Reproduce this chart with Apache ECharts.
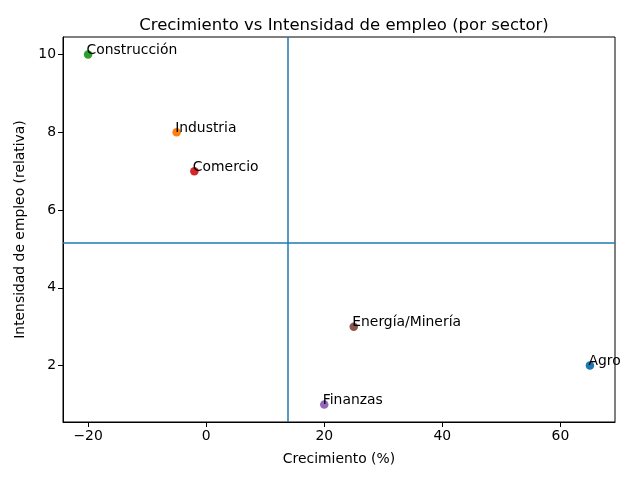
<!DOCTYPE html>
<html>
<head>
<meta charset="utf-8">
<script src="https://cdn.jsdelivr.net/npm/echarts@6/dist/echarts.min.js"></script>
<style>html,body{margin:0;padding:0;background:#fff}#c{width:640px;height:480px}</style>
</head>
<body>
<div id="c"></div>
<script>
const categories = ['Agro', 'Industria', 'Construcción', 'Comercio', 'Finanzas', 'Energía/Minería'];
const growth = [65, -5, -20, -2, 20, 25];
const intensity = [2, 8, 10, 7, 1, 3];
const colors = ['#1f77b4', '#ff7f0e', '#2ca02c', '#d62728', '#9467bd', '#8c564b'];
const xTicks = [-20, 0, 20, 40, 60];
const yTicks = [2, 4, 6, 8, 10];

const meanX = growth.reduce((a, b) => a + b, 0) / growth.length;
const meanY = intensity.reduce((a, b) => a + b, 0) / intensity.length;
const xMinD = Math.min(...growth), xMaxD = Math.max(...growth);
const yMinD = Math.min(...intensity), yMaxD = Math.max(...intensity);
const xPad = (xMaxD - xMinD) * 0.05, yPad = (yMaxD - yMinD) * 0.05;

const font = 'DejaVu Sans';
const fs = 13.9;
const data = categories.map((name, i) => ({
  name: name,
  value: [growth[i], intensity[i]],
  itemStyle: { color: colors[i], opacity: 1 }
}));

const chart = echarts.init(document.getElementById('c'), null, { renderer: 'canvas' });
chart.setOption({
  animation: false,
  backgroundColor: '#fff',
  title: {
    text: 'Crecimiento vs Intensidad de empleo (por sector)',
    left: 339, top: 12, textAlign: 'center',
    textStyle: { fontFamily: font, fontSize: 16.5, fontWeight: 'normal', color: '#000' }
  },
  grid: { left: 63, right: 25, top: 37, bottom: 58, show: true, borderColor: '#000', borderWidth: 1, backgroundColor: 'transparent' },
  xAxis: {
    type: 'value', min: xMinD - xPad, max: xMaxD + xPad,
    name: 'Crecimiento (%)', nameLocation: 'middle', nameGap: 30,
    nameTextStyle: { fontFamily: font, fontSize: fs, color: '#000' },
    splitLine: { show: false },
    axisLine: { show: true, onZero: false, lineStyle: { color: '#000', width: 1 } },
    axisTick: { show: true, length: 5, lineStyle: { color: '#000' }, customValues: xTicks },
    axisLabel: { fontFamily: font, fontSize: fs, color: '#000', margin: 7, customValues: xTicks, formatter: v => (v < 0 ? '\u2212' + Math.abs(v) : String(v)) }
  },
  yAxis: {
    type: 'value', min: yMinD - yPad, max: yMaxD + yPad,
    name: 'Intensidad de empleo (relativa)', nameLocation: 'middle', nameGap: 31, nameRotate: 90,
    nameTextStyle: { fontFamily: font, fontSize: fs, color: '#000' },
    splitLine: { show: false },
    axisLine: { show: true, onZero: false, lineStyle: { color: '#000', width: 1 } },
    axisTick: { show: true, length: 5, lineStyle: { color: '#000' }, customValues: yTicks },
    axisLabel: { fontFamily: font, fontSize: fs, color: '#000', margin: 7, customValues: yTicks }
  },
  series: [{
    type: 'scatter',
    symbolSize: 8.5,
    data: data,
    label: {
      show: true,
      formatter: p => p.name,
      position: [4.25, 4.25],
      align: 'left', verticalAlign: 'bottom',
      offset: [-1.5, 3],
      fontFamily: font, fontSize: fs, color: '#000'
    },
    markLine: {
      silent: true, symbol: 'none', label: { show: false },
      lineStyle: { color: '#1f77b4', width: 1.5, type: 'solid' },
      data: [{ xAxis: meanX }, { yAxis: meanY }]
    },
    z: 3
  }]
});
</script>
</body>
</html>
